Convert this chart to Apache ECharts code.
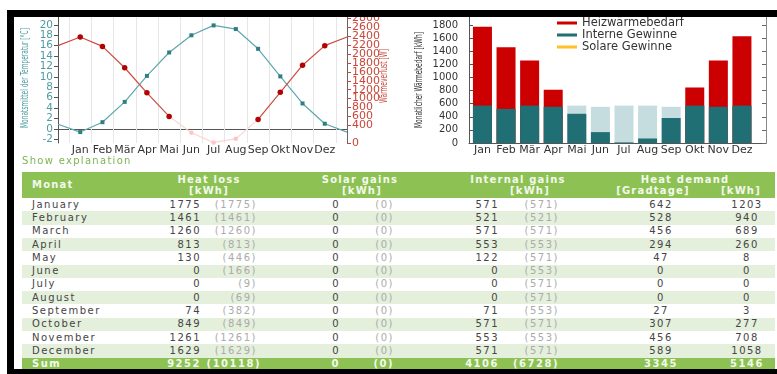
<!DOCTYPE html>
<html><head><meta charset="utf-8">
<script src="https://cdn.jsdelivr.net/npm/echarts@6/dist/echarts.min.js"></script>
<style>
html,body{margin:0;padding:0;background:#fff;}
#wrap{position:relative;width:777px;height:374px;overflow:hidden;background:#fff;font-family:'DejaVu Sans',Verdana,sans-serif;}
#chart{position:absolute;left:0;top:0;width:777px;height:160px;}
.band{position:absolute;background:#000;z-index:10;}
#explain{position:absolute;left:22px;top:154px;font-size:10px;letter-spacing:1.3px;color:#7db552;line-height:14px;white-space:nowrap;}
.row{position:absolute;left:22px;width:753px;}
.cell{position:absolute;white-space:nowrap;font-size:10px;letter-spacing:1.5px;color:#454545;}
.hd{font-weight:bold;color:#f3f9ec;letter-spacing:1.2px;}
.par{color:#ababab;}
.sum{font-weight:bold;color:#f3f9ec;}
</style></head><body>
<div id="wrap">
  <div id="chart"></div>
  <div id="explain">Show explanation</div>
  <div id="table"></div>
  <div class="band" style="left:7px;top:10px;width:770px;height:7px"></div>
  <div class="band" style="left:7px;top:10px;width:7px;height:364px"></div>
  <div class="band" style="left:7px;top:369px;width:770px;height:5px"></div>
</div>
<script>
// ---------- chart data ----------
const months = ['Jan','Feb','Mär','Apr','Mai','Jun','Jul','Aug','Sep','Okt','Nov','Dez'];
// line chart: point 0 = previous Dez (left edge), 1..12 = Jan..Dez, 13 = next Jan (right edge)
const tempC = [0.9, -0.6, 1.3, 5.2, 10.2, 14.7, 18.0, 19.9, 19.2, 15.4, 10.1, 4.9, 1.0, -0.6];
const heatLossW = [2190, 2386, 2174, 1693, 1129, 599, 231, 12, 93, 531, 1141, 1751, 2190, 2386];
const fadedPoints = [6, 7, 8];          // Jun, Jul, Aug drawn faded
const tempTickValues = [-2, 0, 2, 4, 6, 8, 10, 12, 14, 16, 18, 20];
// bar chart (kWh)
const internalAvail = [571, 521, 571, 553, 571, 553, 571, 571, 553, 571, 553, 571];
const internalUsed  = [571, 521, 571, 553, 446, 166, 9, 69, 382, 571, 553, 571];
const heatLossBar   = [1775, 1461, 1260, 813, null, null, null, null, null, 849, 1261, 1629];
const solarBar      = [0, 0, 0, 0, 0, 0, 0, 0, 0, 0, 0, 0];
// ---------- table data ----------
const monthNames = ['January','February','March','April','May','June','July','August','September','October','November','December'];
const heatLossNet   = [1775, 1461, 1260, 813, 130, 0, 0, 0, 74, 849, 1261, 1629];
const heatLossGross = [1775, 1461, 1260, 813, 446, 166, 9, 69, 382, 849, 1261, 1629];
const solarNet      = [0, 0, 0, 0, 0, 0, 0, 0, 0, 0, 0, 0];
const solarGross    = [0, 0, 0, 0, 0, 0, 0, 0, 0, 0, 0, 0];
const internalNet   = [571, 521, 571, 553, 122, 0, 0, 0, 71, 571, 553, 571];
const internalGross = [571, 521, 571, 553, 571, 553, 571, 571, 553, 571, 553, 571];
const gradtage      = [642, 528, 456, 294, 47, 0, 0, 0, 27, 307, 456, 589];
const demandKWh     = [1203, 940, 689, 260, 8, 0, 0, 0, 3, 277, 708, 1058];
const sumRow        = ['Sum', 9252, 10118, 0, 0, 4106, 6728, 3345, 5146];

const monthLabel = v => (Number.isInteger(v) && v >= 1 && v <= 12) ? months[v - 1] : '';
const stepLabel = step => v => (Math.abs(v / step - Math.round(v / step)) < 1e-6) ? String(Math.round(v)) : '';

const tempData = tempC.map((v, i) => [i, v]);
const lossRed = heatLossW.map((v, i) => [i, fadedPoints.includes(i) ? null : v]);
const lossPink = heatLossW.map((v, i) => [i, (i >= fadedPoints[0] - 1 && i <= fadedPoints[fadedPoints.length - 1] + 1) ? v : null]);
const edgeSize = s => (val, p) => (p.dataIndex === 0 || p.dataIndex === tempC.length - 1) ? 0 : s;
const halfLines = months.concat(['']).map((m, i) => ({ xAxis: i + 0.5 }));
const bx = arr => arr.map((v, i) => [i + 1, v]);

// temperature tick labels split over three overlaid axes so none gets auto-hidden
const lastT = tempTickValues.length - 1;
const tEnds = tempTickValues.filter((v, i) => i === 0 || i === lastT);
const tOdd  = tempTickValues.filter((v, i) => i > 0 && i < lastT && i % 2 === 1);
const tEven = tempTickValues.filter((v, i) => i > 0 && i < lastT && i % 2 === 0);
const tMin = -2.7, tMax = 21.9;
function tempAxis(vals, showLine) {
  return { type: 'value', gridIndex: 0, position: 'left', offset: 0, min: tMin, max: tMax,
    axisLine: { show: showLine, lineStyle: { color: '#555' } },
    axisTick: { show: true, length: 4, customValues: vals, lineStyle: { color: '#555' } },
    splitLine: { show: false },
    axisLabel: { customValues: vals, color: '#4f9ca2', fontSize: 10.5, margin: 5,
      hideOverlap: false, showMinLabel: true, showMaxLabel: true } };
}

// rotated, horizontally condensed axis titles
const mctx = document.createElement('canvas').getContext('2d');
function axisTitle(text, cx, cy, len, size, color) {
  const font = size + "px 'DejaVu Sans Condensed','DejaVu Sans',sans-serif";
  mctx.font = font;
  const w = mctx.measureText(text).width;
  return { type: 'text', x: cx, y: cy, rotation: Math.PI / 2, scaleX: len / w, z: 10, silent: true,
    style: { text: text, font: font, fill: color, align: 'center', verticalAlign: 'middle' } };
}

const chart = echarts.init(document.getElementById('chart'), null, { renderer: 'canvas' });
chart.setOption({
  animation: false,
  textStyle: { fontFamily: "'DejaVu Sans',sans-serif" },
  grid: [
    { left: 58, top: 15, width: 289, height: 128 },
    { left: 469, top: 12, width: 297, height: 131 }
  ],
  graphic: [
    axisTitle('Monatsmittel der Temperatur [°C]', 25, 78, 100, 11, '#4f9ca2'),
    axisTitle('Wärmeverlust [W]', 384, 76, 54, 11, '#c8473a'),
    axisTitle('Monatlicher Wärmebedarf [kWh]', 419, 80, 96, 10, '#333')
  ],
  legend: {
    data: ['Heizwärmebedarf', 'Interne Gewinne', 'Solare Gewinne'],
    orient: 'vertical', left: 557, top: 17, padding: 0, itemGap: 0,
    icon: 'rect', itemWidth: 20, itemHeight: 3, selectedMode: false,
    textStyle: { fontSize: 11.5, color: '#333', lineHeight: 11.2 }
  },
  xAxis: [
    { type: 'value', gridIndex: 0, min: 0, max: 13, interval: 1,
      axisLine: { lineStyle: { color: '#555' } }, axisTick: { show: false }, splitLine: { show: false },
      axisLabel: { formatter: monthLabel, fontSize: 11, color: '#333', margin: 2, hideOverlap: false } },
    { type: 'value', gridIndex: 1, min: 0.43, max: 13.02, minInterval: 1, maxInterval: 1,
      axisLine: { lineStyle: { color: '#555' } }, axisTick: { show: false }, splitLine: { show: false },
      axisLabel: { formatter: monthLabel, fontSize: 11, color: '#333', margin: 2, hideOverlap: false } }
  ],
  yAxis: [
    tempAxis(tEnds, true),
    { type: 'value', gridIndex: 0, position: 'right', min: 0, max: 2880, minInterval: 200, maxInterval: 200,
      axisLine: { show: true, lineStyle: { color: '#666' } },
      axisTick: { show: true, length: 4, lineStyle: { color: '#c8473a' } },
      splitLine: { show: false },
      axisLabel: { formatter: stepLabel(200), color: '#c8473a', fontSize: 11, margin: 5, hideOverlap: false, showMinLabel: true, showMaxLabel: false } },
    { type: 'value', gridIndex: 1, position: 'left', min: 0, max: 2000, interval: 200,
      axisLine: { show: true, lineStyle: { color: '#555' } },
      axisTick: { show: true, inside: true, length: 4, lineStyle: { color: '#555' } },
      splitLine: { show: false },
      axisLabel: { formatter: stepLabel(200), color: '#333', fontSize: 10, margin: 11, hideOverlap: false, showMinLabel: true, showMaxLabel: false } },
    { type: 'value', gridIndex: 1, position: 'right', min: 0, max: 2000, interval: 200,
      axisLine: { show: true, lineStyle: { color: '#888' } },
      axisTick: { show: true, inside: true, length: 4, lineStyle: { color: '#666' } },
      axisLabel: { show: false }, splitLine: { show: false } },
    tempAxis(tOdd, false),
    tempAxis(tEven, false)
  ],
  series: [
    { name: 'Temperatur', type: 'line', xAxisIndex: 0, yAxisIndex: 0, data: tempData, z: 3,
      symbol: 'rect', symbolSize: edgeSize(4),
      lineStyle: { color: '#5ea8ad', width: 1.2 }, itemStyle: { color: '#2e7e84' },
      markLine: { silent: true, symbol: 'none', z: 1, label: { show: false },
        lineStyle: { color: '#e6e6e6', type: 'solid', width: 1 }, data: halfLines } },
    { name: 'Wärmeverlust faded', type: 'line', xAxisIndex: 0, yAxisIndex: 1, data: lossPink, z: 3,
      symbol: 'circle', symbolSize: 4.5,
      lineStyle: { color: '#ffd2d2', width: 1.2 }, itemStyle: { color: '#ffc4c4' } },
    { name: 'Wärmeverlust', type: 'line', xAxisIndex: 0, yAxisIndex: 1, data: lossRed, z: 4,
      connectNulls: false, symbol: 'circle', symbolSize: edgeSize(5.5),
      lineStyle: { color: '#cc4c40', width: 1.2 }, itemStyle: { color: '#b30000' } },
    { name: 'Interne Gewinne verfügbar', type: 'bar', xAxisIndex: 1, yAxisIndex: 2, data: bx(internalAvail),
      barWidth: 19, barGap: '-100%', z: 1, itemStyle: { color: '#c6dde0' } },
    { name: 'Heizwärmebedarf', type: 'bar', xAxisIndex: 1, yAxisIndex: 2, data: bx(heatLossBar),
      barWidth: 19, barGap: '-100%', z: 2, itemStyle: { color: '#cc0000' } },
    { name: 'Interne Gewinne', type: 'bar', xAxisIndex: 1, yAxisIndex: 2, data: bx(internalUsed),
      barWidth: 19, barGap: '-100%', z: 3, itemStyle: { color: '#1f6f74' } },
    { name: 'Solare Gewinne', type: 'bar', xAxisIndex: 1, yAxisIndex: 2, data: bx(solarBar),
      barWidth: 19, barGap: '-100%', z: 4, itemStyle: { color: '#ffc125' } }
  ]
});

// ---------- table ----------
const T = document.getElementById('table');
const headTop = 172, headH = 26, rowTop = 198, rowH = 13.3;
function box(top, h, bg) {
  const d = document.createElement('div');
  d.className = 'row'; d.style.top = top + 'px'; d.style.height = h + 'px'; d.style.background = bg;
  T.appendChild(d);
}
function txt(s, x, cy, align, cls) {
  const d = document.createElement('div');
  d.className = 'cell' + (cls ? ' ' + cls : '');
  d.textContent = s;
  d.style.top = (cy - 7) + 'px'; d.style.lineHeight = '14px'; d.style.height = '14px';
  if (align === 'left') { d.style.left = x + 'px'; }
  else if (align === 'right') { d.style.left = (x - 200) + 'px'; d.style.width = '200px'; d.style.textAlign = 'right'; }
  else { d.style.left = (x - 100) + 'px'; d.style.width = '200px'; d.style.textAlign = 'center'; }
  T.appendChild(d);
}
const cols = [
  { x: 32, a: 'left' }, { x: 201, a: 'right' }, { x: 257, a: 'right', p: true },
  { x: 340, a: 'right' }, { x: 394, a: 'right', p: true },
  { x: 499, a: 'right' }, { x: 559, a: 'right', p: true },
  { x: 661, a: 'center' }, { x: 747, a: 'center' }
];
box(headTop, headH, '#8dc153');
txt('Monat', 32, 185, 'left', 'hd');
txt('Heat loss', 209, 179.5, 'center', 'hd'); txt('[kWh]', 209, 191, 'center', 'hd');
txt('Solar gains', 360, 179.5, 'center', 'hd'); txt('[kWh]', 362, 191, 'center', 'hd');
txt('Internal gains', 518, 179.5, 'center', 'hd'); txt('[kWh]', 530, 191, 'center', 'hd');
txt('Heat demand', 685, 179.5, 'center', 'hd'); txt('[Gradtage]', 653, 191, 'center', 'hd'); txt('[kWh]', 741, 191, 'center', 'hd');
monthNames.forEach((m, i) => {
  const top = rowTop + i * rowH;
  box(top, rowH, i % 2 ? '#e4efdc' : '#ffffff');
  const vals = [m, heatLossNet[i], heatLossGross[i], solarNet[i], solarGross[i], internalNet[i], internalGross[i], gradtage[i], demandKWh[i]];
  vals.forEach((v, c) => {
    const col = cols[c];
    txt(col.p ? '(' + v + ')' : String(v), col.x, top + rowH / 2, col.a, col.p ? 'par' : '');
  });
});
const sTop = rowTop + monthNames.length * rowH;
box(sTop, rowH, '#8dc153');
sumRow.forEach((v, c) => {
  const col = cols[c];
  const x = (c === 2) ? col.x + 4 : col.x;
  txt(col.p ? '(' + v + ')' : String(v), x, sTop + rowH / 2, col.a, 'sum');
});
</script>
</body></html>
